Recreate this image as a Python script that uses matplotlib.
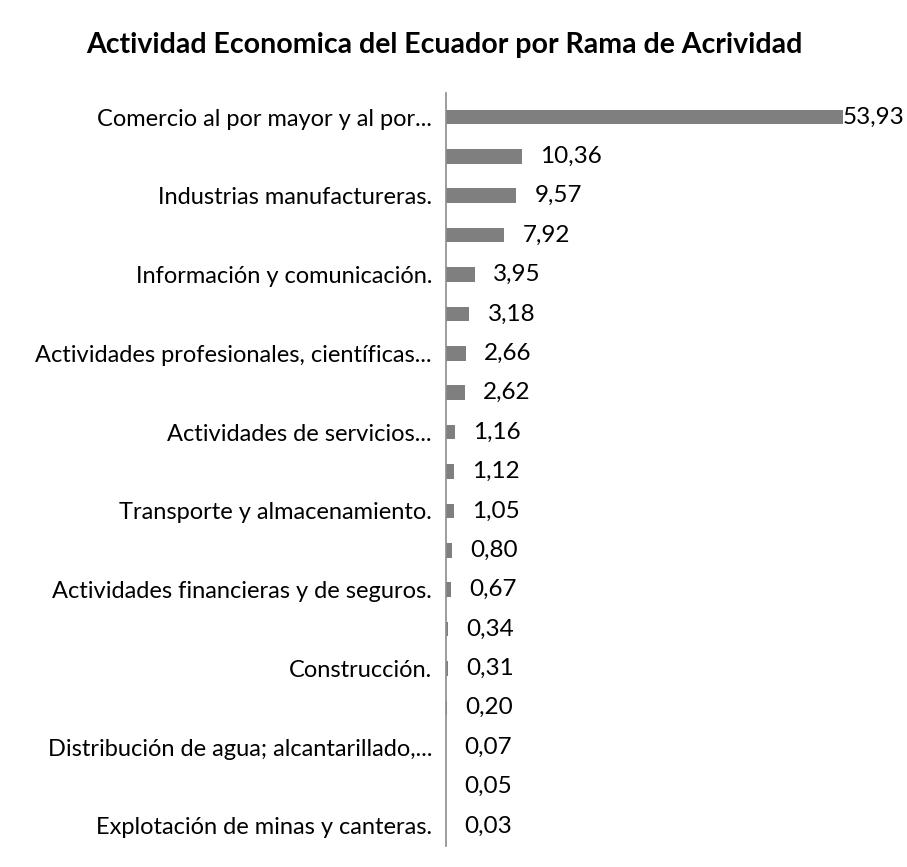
import matplotlib.pyplot as plt

plt.rcParams['font.family'] = ['Lato', 'DejaVu Sans']

ramas = ['Comercio al por mayor y al por...', '',
         'Industrias manufactureras.', '',
         'Información y comunicación.', '',
         'Actividades profesionales, científicas...', '',
         'Actividades de servicios...', '',
         'Transporte y almacenamiento.', '',
         'Actividades financieras y de seguros.', '',
         'Construcción.', '',
         'Distribución de agua; alcantarillado,...', '',
         'Explotación de minas y canteras.']
valores = [53.93, 10.36, 9.57, 7.92, 3.95, 3.18, 2.66, 2.62, 1.16, 1.12,
           1.05, 0.80, 0.67, 0.34, 0.31, 0.20, 0.07, 0.05, 0.03]

fig = plt.figure(figsize=(9.07, 8.67), dpi=100)
ax = fig.add_axes([0.4917, 0.0246, 0.487, 0.8677])

pos = list(range(len(valores)))
ax.barh(pos, valores, height=0.37, color='#7f7f7f')
ax.set_xlim(0, 60)
ax.set_ylim(18.5, -0.6)
ax.set_yticks(pos)
ax.set_yticklabels(ramas, fontsize=17)
ax.tick_params(axis='y', length=0, pad=10)
ax.set_xticks([])

for s in ['top', 'right', 'bottom']:
    ax.spines[s].set_visible(False)
ax.spines['left'].set_color('#8c8c8c')
ax.spines['left'].set_linewidth(1.2)

for i, v in enumerate(valores):
    txt = f'{v:.2f}'.replace('.', ',')
    off = 0 if i == 0 else 13
    ax.annotate(txt, (v, i), xytext=(off, 0), textcoords='offset points',
                va='center', ha='left', fontsize=17.5)

fig.text(0.49, 0.948, 'Actividad Economica del Ecuador por Rama de Acrividad',
         ha='center', va='center', fontsize=20.5, fontweight='bold')

fig.savefig('out.png', dpi=100)
